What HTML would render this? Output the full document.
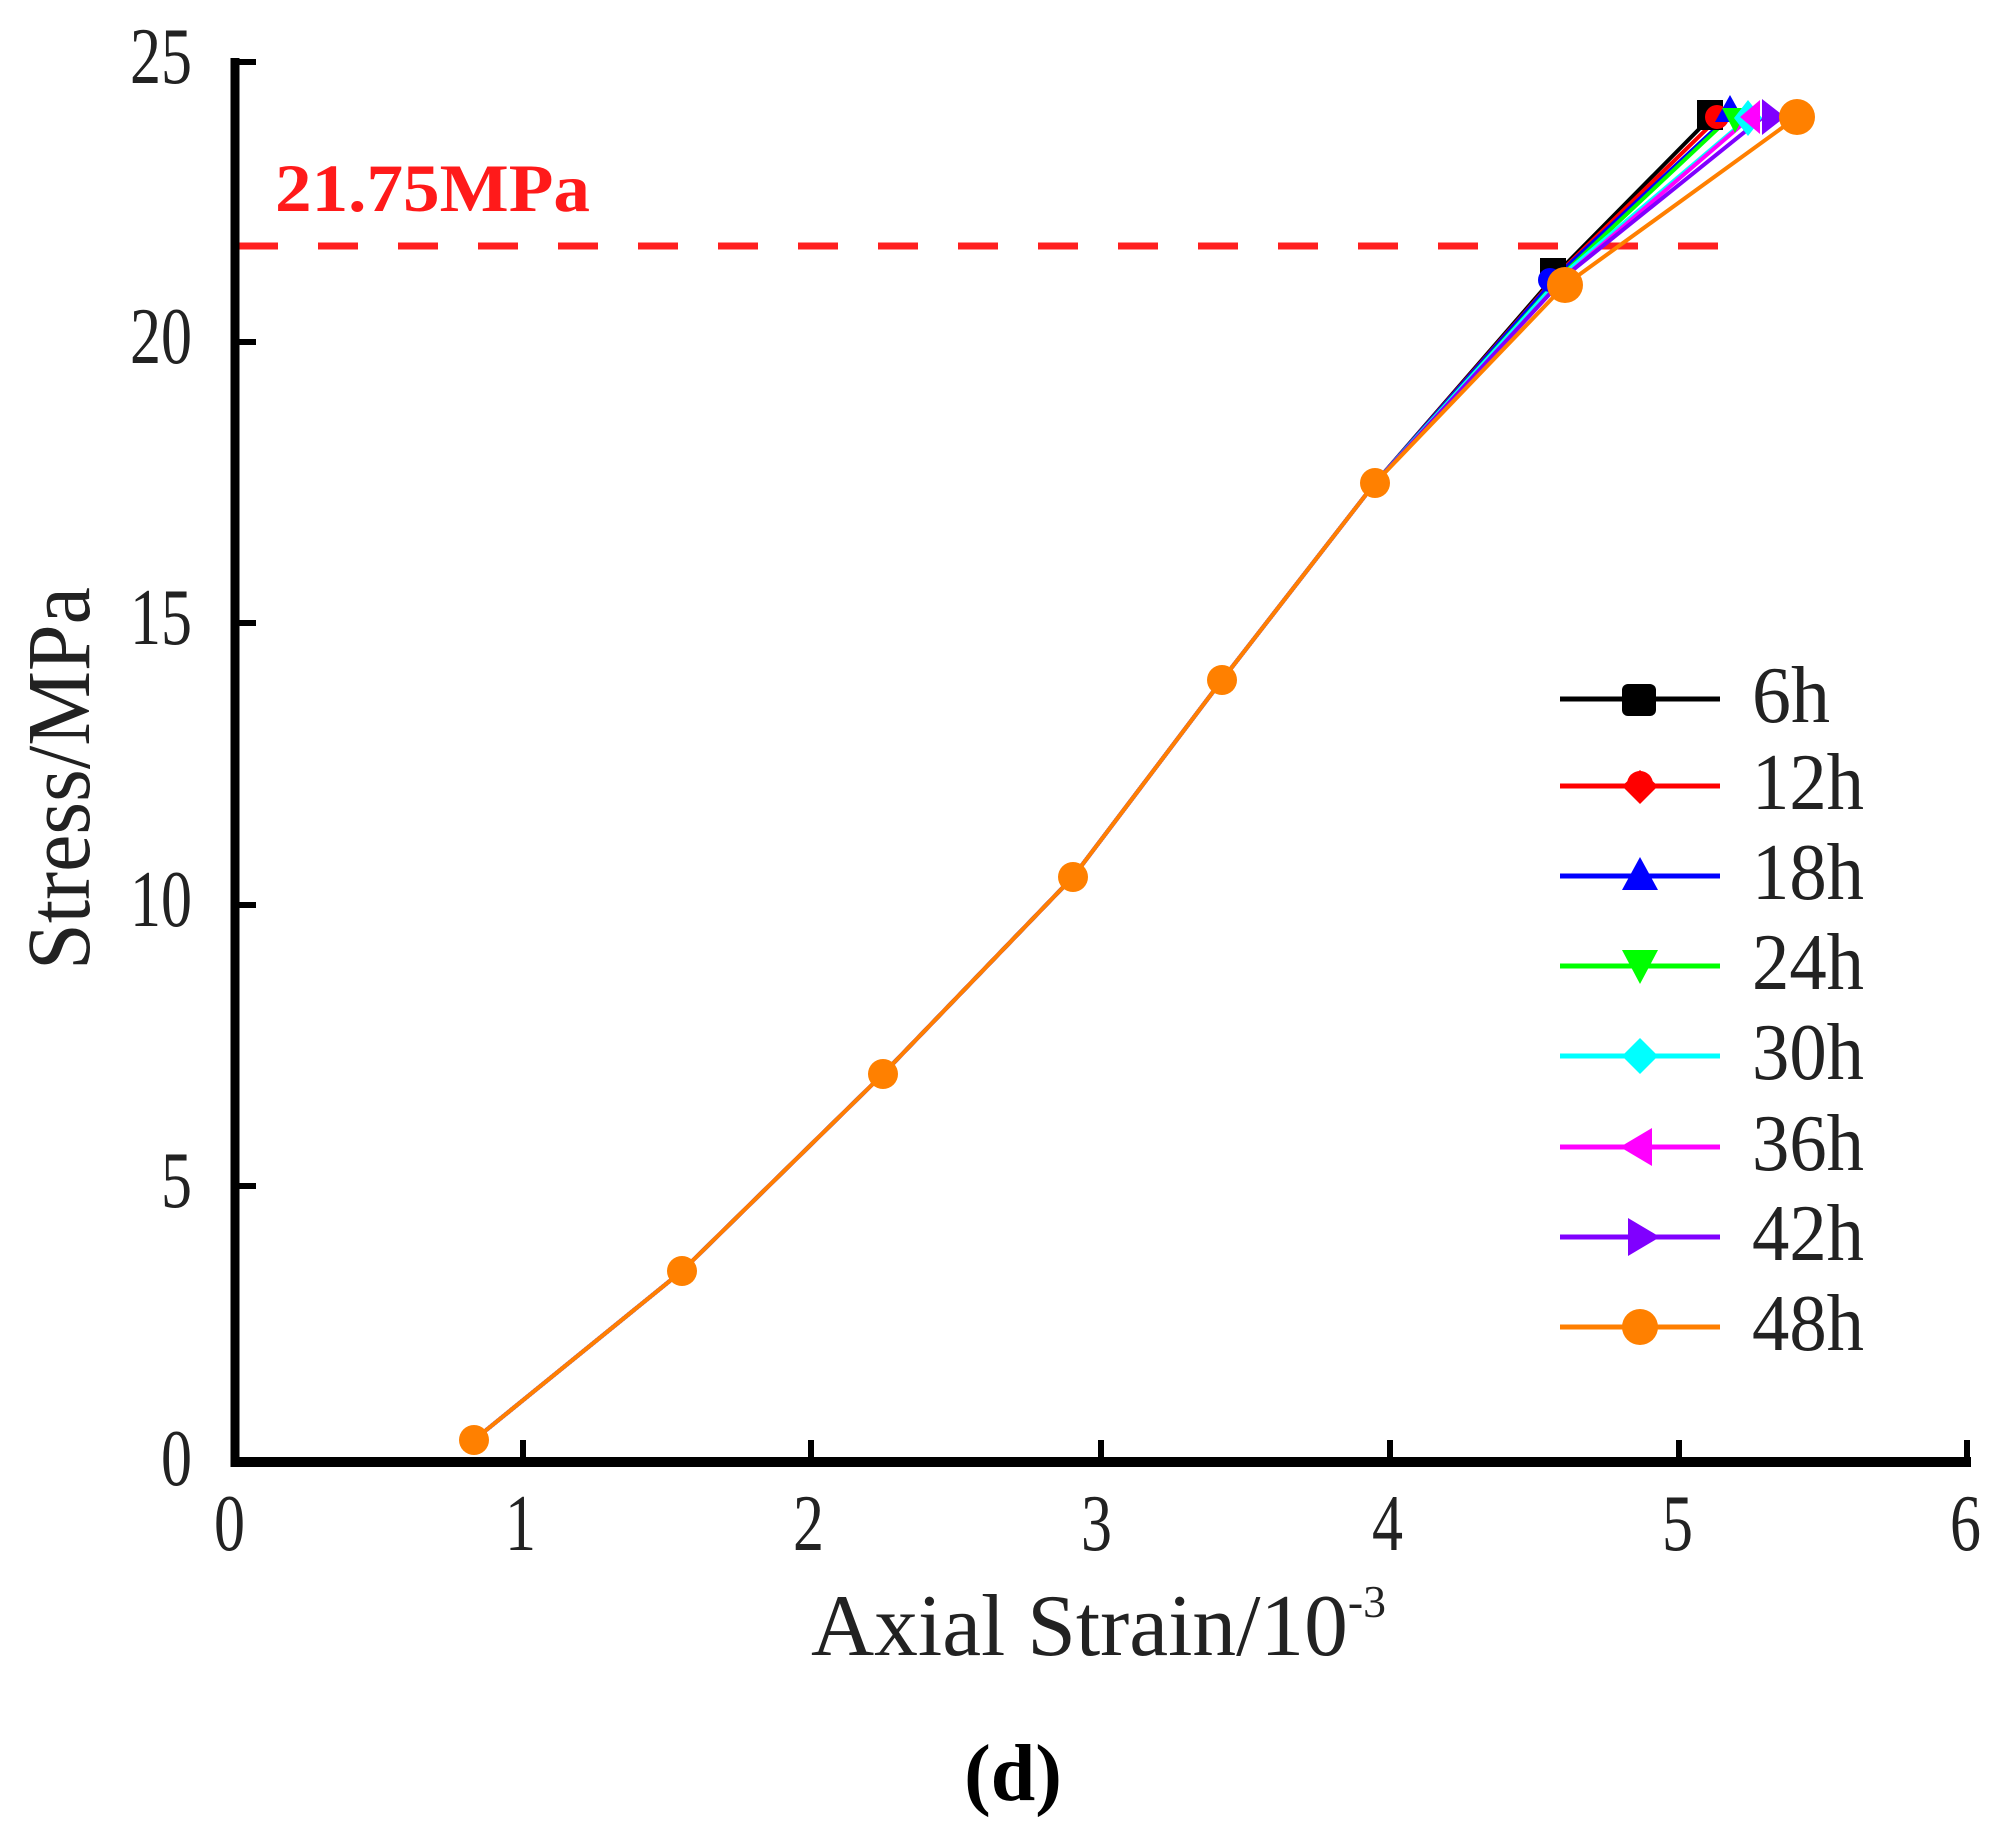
<!DOCTYPE html>
<html><head><meta charset="utf-8"><style>html,body{margin:0;padding:0;background:#fff}svg{display:block}</style></head>
<body>
<svg width="2001" height="1829" viewBox="0 0 2001 1829" xmlns="http://www.w3.org/2000/svg" font-family="Liberation Serif, serif">
<rect width="2001" height="1829" fill="#fff"/>
<line x1="238" y1="246" x2="1740" y2="246" stroke="#ff2020" stroke-width="7" stroke-dasharray="40,40"/>
<text x="275" y="211" font-size="68" font-weight="bold" fill="#ff1a1a" textLength="315" lengthAdjust="spacingAndGlyphs">21.75MPa</text>
<line x1="235" y1="58" x2="235" y2="1467" stroke="#000" stroke-width="9"/>
<line x1="231" y1="1462" x2="1971" y2="1462" stroke="#000" stroke-width="10"/>
<g stroke="#000" stroke-width="6">
<line x1="235" y1="62" x2="256" y2="62"/>
<line x1="235" y1="342" x2="256" y2="342"/>
<line x1="235" y1="623" x2="256" y2="623"/>
<line x1="235" y1="905" x2="256" y2="905"/>
<line x1="235" y1="1186" x2="256" y2="1186"/>
<line x1="523" y1="1462" x2="523" y2="1440"/>
<line x1="811" y1="1462" x2="811" y2="1440"/>
<line x1="1101" y1="1462" x2="1101" y2="1440"/>
<line x1="1390" y1="1462" x2="1390" y2="1440"/>
<line x1="1679" y1="1462" x2="1679" y2="1440"/>
<line x1="1967" y1="1462" x2="1967" y2="1440"/>
</g>
<g font-size="80" fill="#222" text-anchor="end">
<text x="192" y="83" textLength="62" lengthAdjust="spacingAndGlyphs">25</text>
<text x="192" y="363" textLength="62" lengthAdjust="spacingAndGlyphs">20</text>
<text x="192" y="644" textLength="62" lengthAdjust="spacingAndGlyphs">15</text>
<text x="192" y="926" textLength="62" lengthAdjust="spacingAndGlyphs">10</text>
<text x="192" y="1207" textLength="31" lengthAdjust="spacingAndGlyphs">5</text>
<text x="192" y="1485" textLength="31" lengthAdjust="spacingAndGlyphs">0</text>
</g>
<g font-size="80" fill="#222">
<text x="214" y="1550" textLength="31" lengthAdjust="spacingAndGlyphs">0</text>
<text x="505" y="1550" textLength="31" lengthAdjust="spacingAndGlyphs">1</text>
<text x="793" y="1550" textLength="31" lengthAdjust="spacingAndGlyphs">2</text>
<text x="1081" y="1550" textLength="31" lengthAdjust="spacingAndGlyphs">3</text>
<text x="1372" y="1550" textLength="31" lengthAdjust="spacingAndGlyphs">4</text>
<text x="1662" y="1550" textLength="31" lengthAdjust="spacingAndGlyphs">5</text>
<text x="1950" y="1550" textLength="31" lengthAdjust="spacingAndGlyphs">6</text>
</g>
<text x="811" y="1655" font-size="88" fill="#222" textLength="575" lengthAdjust="spacingAndGlyphs">Axial Strain/10<tspan font-size="46" dy="-38">-3</tspan></text>
<text transform="translate(89,970) rotate(-90)" font-size="90" fill="#222" textLength="383" lengthAdjust="spacingAndGlyphs">Stress/MPa</text>
<text x="1013" y="1800" font-size="80" font-weight="bold" fill="#000" text-anchor="middle">(d)</text>
<g fill="none" stroke-width="4">
<polyline stroke="#000" points="474,1440 682,1271 883,1074 1073,877 1222,680 1375,483 1560,270 1710,118"/>
<polyline stroke="#f00" points="474,1440 682,1271 883,1074 1073,877 1222,680 1375,483 1562,270 1718,118"/>
<polyline stroke="#00f" points="474,1440 682,1271 883,1074 1073,877 1222,680 1375,483 1563,270 1730,115"/>
<polyline stroke="#0f0" points="474,1440 682,1271 883,1074 1073,877 1222,680 1375,483 1565,272 1725,122"/>
<polyline stroke="#0ff" points="474,1440 682,1271 883,1074 1073,877 1222,680 1375,483 1566,272 1748,118"/>
<polyline stroke="#f0f" points="474,1440 682,1271 883,1074 1073,877 1222,680 1375,483 1568,274 1745,122"/>
<polyline stroke="#8000ff" points="474,1440 682,1271 883,1074 1073,877 1222,680 1375,483 1568,274 1762,118"/>
<polyline stroke="#ff7f00" points="474,1440 682,1271 883,1074 1073,877 1222,680 1375,483 1565,285 1797,117"/>
</g>
<g fill="#ff8000">
<circle cx="474" cy="1440" r="15"/><circle cx="682" cy="1271" r="15"/><circle cx="883" cy="1074" r="15"/>
<circle cx="1073" cy="877" r="15"/><circle cx="1222" cy="680" r="15"/><circle cx="1375" cy="483" r="15"/>
</g>
<rect x="1697" y="100" width="26" height="30" fill="#000"/>
<circle cx="1717" cy="117" r="12" fill="#f00"/>
<polygon points="1730,95 1745,122 1715,122" fill="#00f"/>
<polygon points="1722,108 1748,108 1735,133" fill="#0f0"/>
<polygon points="1748,100 1762,118 1748,136 1734,118" fill="#0ff"/>
<polygon points="1740,117 1760,100 1760,134" fill="#f0f"/>
<polygon points="1762,99 1785,117 1762,135" fill="#8000ff"/>
<circle cx="1797" cy="117" r="18" fill="#ff8000"/>
<rect x="1540" y="258" width="26" height="28" fill="#000"/>
<circle cx="1550" cy="280" r="12" fill="#00f"/>
<circle cx="1565" cy="285" r="18" fill="#ff8000"/>
<g stroke-width="5">
<line x1="1560" y1="699" x2="1720" y2="699" stroke="#000"/>
<line x1="1560" y1="786" x2="1720" y2="786" stroke="#f00"/>
<line x1="1560" y1="876" x2="1720" y2="876" stroke="#00f"/>
<line x1="1560" y1="966" x2="1720" y2="966" stroke="#0f0"/>
<line x1="1560" y1="1056" x2="1720" y2="1056" stroke="#0ff"/>
<line x1="1560" y1="1147" x2="1720" y2="1147" stroke="#f0f"/>
<line x1="1560" y1="1237" x2="1720" y2="1237" stroke="#8000ff"/>
<line x1="1560" y1="1327" x2="1720" y2="1327" stroke="#ff7f00"/>
</g>
<rect x="1622" y="684" width="34" height="32" rx="6" fill="#000"/>
<polygon points="1640,770 1658,786 1640,804 1622,786" fill="#f00"/><circle cx="1640" cy="784" r="13" fill="#f00"/>
<polygon points="1640,857 1658,890 1622,890" fill="#00f"/>
<polygon points="1622,950 1658,950 1640,984" fill="#0f0"/>
<polygon points="1640,1038 1658,1056 1640,1074 1622,1056" fill="#0ff"/>
<polygon points="1620,1147 1652,1128 1652,1166" fill="#f0f"/>
<polygon points="1628,1218 1660,1237 1628,1256" fill="#8000ff"/>
<circle cx="1640" cy="1327" r="18" fill="#ff8000"/>
<g font-size="80" fill="#222" lengthAdjust="spacingAndGlyphs">
<text x="1752" y="722" textLength="78" lengthAdjust="spacingAndGlyphs">6h</text>
<text x="1752" y="809" textLength="112" lengthAdjust="spacingAndGlyphs">12h</text>
<text x="1752" y="899" textLength="112" lengthAdjust="spacingAndGlyphs">18h</text>
<text x="1752" y="989" textLength="112" lengthAdjust="spacingAndGlyphs">24h</text>
<text x="1752" y="1079" textLength="112" lengthAdjust="spacingAndGlyphs">30h</text>
<text x="1752" y="1170" textLength="112" lengthAdjust="spacingAndGlyphs">36h</text>
<text x="1752" y="1260" textLength="112" lengthAdjust="spacingAndGlyphs">42h</text>
<text x="1752" y="1350" textLength="112" lengthAdjust="spacingAndGlyphs">48h</text>
</g>
</svg>
</body></html>
